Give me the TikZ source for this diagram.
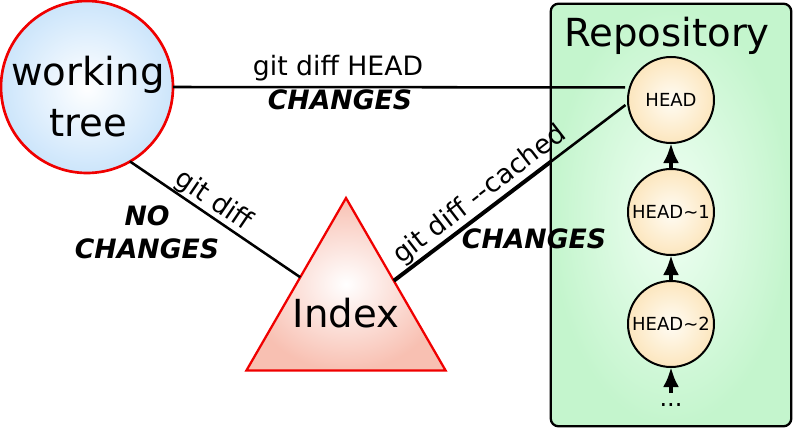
\documentclass[tikz,border=0pt]{standalone}
\usepackage{fontspec}
\setmainfont{DejaVu Sans}
\usetikzlibrary{shapes.geometric,arrows.meta,calc}
\definecolor{wtout}{RGB}{204,229,251}
\definecolor{idxout}{RGB}{248,192,178}
\definecolor{headin}{RGB}{255,252,244}
\definecolor{headout}{RGB}{252,230,190}
\definecolor{repoin}{RGB}{240,255,244}
\definecolor{repoout}{RGB}{196,245,205}
\definecolor{redline}{RGB}{240,0,0}
\begin{document}
\begin{tikzpicture}[x=0.75pt,y=-0.75pt,
  bigtext/.style={font=\fontsize{29}{35}\selectfont, inner sep=0pt},
  midtext/.style={font=\fontsize{20}{24.75}\selectfont, inner sep=0pt},
  boldtext/.style={font=\fontsize{20}{24.75}\selectfont\bfseries\itshape, inner sep=0pt},
  headtext/.style={font=\fontsize{13.5}{16}\selectfont},
  commit/.style={circle, draw=black, line width=1.5pt, minimum size=64.5pt, inner sep=0pt, outer sep=0pt, inner color=headin, outer color=headout, headtext},
  conn/.style={line width=1.9pt},
  thickconn/.style={line width=3pt},
  commitarrow/.style={draw=black, line width=3pt, -{Latex[length=15pt,width=12pt]}}
]
\useasboundingbox (0,0) rectangle (793,428);

% repository box
\node[draw=black, line width=1.7pt, rounded corners=6pt, minimum width=180.5pt, minimum height=317pt,
      inner sep=0pt, outer sep=0pt, inner color=repoin, outer color=repoout] (repo) at (671,215) {};
\node[bigtext, anchor=base] (repolabel) at (667,47) {Repository};

% commits
\node[commit] (h0) at (671,100) {HEAD};
\node[commit] (h1) at (671,212) {HEAD\textasciitilde1};
\node[commit] (h2) at (671,324) {HEAD\textasciitilde2};
\node[font=\fontsize{18}{20}\selectfont, inner sep=0pt, anchor=base] (dots) at (671,406) {...};
\coordinate (dtop) at (671,393);

\draw[commitarrow] (h1.north) -- (h0.south);
\draw[commitarrow] (h2.north) -- (h1.south);
\draw[commitarrow] (dtop) -- (h2.south);

% working tree
\node[circle, draw=redline, line width=2pt, minimum size=129pt, inner sep=0pt, outer sep=0pt,
      inner color=white, outer color=wtout] (wt) at (87,87) {};
\node[bigtext, anchor=base] (wtl1) at (88,86) {working};
\node[bigtext, anchor=base] (wtl2) at (88,137) {tree};

% index
\node[regular polygon, regular polygon sides=3, draw=redline, line width=1.7pt, minimum size=172.5pt,
      inner sep=0pt, outer sep=0pt, inner color=white, outer color=idxout] (idx) at (346,313) {};
\node[bigtext, anchor=base] (idxl) at (346,327) {Index};

% connectors
\draw[conn, shorten >=3.5pt] (wt.east) -- (h0.163);
\draw[conn] (wt.-60) -- (idx.142);
\coordinate (cross) at (intersection of idx.34--h0.184 and repo.north west--repo.south west);
\draw[thickconn] (idx.34) -- (cross);
\draw[conn, shorten >=2.5pt] (cross) -- (h0.184);

% labels
\node[midtext, anchor=base] (lhead) at (338,76) {git diff HEAD};
\node[boldtext, anchor=base] (lch1) at (340,110) {CHANGES};
\node[midtext, rotate=-34.2] (ldiff) at (213,201) {git diff};
\node[boldtext, align=center] (lnoch) at (147,232.5) {NO\\CHANGES};
\node[midtext, rotate=37.6] (lcached) at (480,195) {git diff -{}-cached};
\node[boldtext, anchor=base] (lch2) at (534,248) {CHANGES};
\end{tikzpicture}
\end{document}
